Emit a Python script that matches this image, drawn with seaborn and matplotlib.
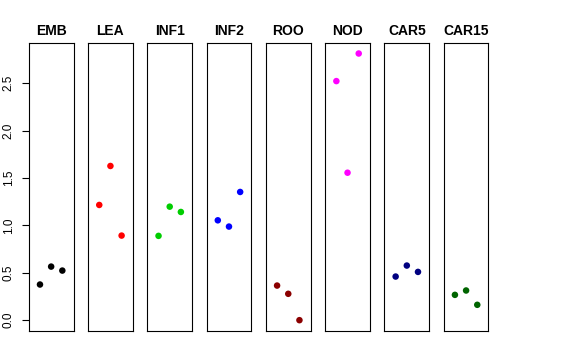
import numpy as np
import pandas as pd
import matplotlib
matplotlib.use("Agg")
import matplotlib.pyplot as plt
import seaborn as sns

# tissues, replicate index and expression values
tissues = ["EMB", "LEA", "INF1", "INF2", "ROO", "NOD", "CAR5", "CAR15"]
replicate = [1, 2, 3]
emb = [0.376, 0.565, 0.523]
lea = [1.215, 1.626, 0.892]
inf1 = [0.889, 1.197, 1.141]
inf2 = [1.053, 0.987, 1.352]
roo = [0.365, 0.278, 0.0]
nod = [2.521, 1.555, 2.812]
car5 = [0.460, 0.576, 0.509]
car15 = [0.267, 0.313, 0.162]
colors = ["#000000", "#FF0000", "#00CD00", "#0000FF",
          "#8B0000", "#FF00FF", "#000080", "#006400"]
yticks = [0.0, 0.5, 1.0, 1.5, 2.0, 2.5]

values = [emb, lea, inf1, inf2, roo, nod, car5, car15]
df = pd.DataFrame({
    "tissue": np.repeat(tissues, len(replicate)),
    "rep": replicate * len(tissues),
    "value": np.concatenate(values),
})
palette = dict(zip(tissues, colors))

sns.set_style("white")
plt.rcParams["font.family"] = ["Liberation Sans", "DejaVu Sans"]
plt.rcParams["text.color"] = "black"
plt.rcParams["axes.labelcolor"] = "black"
plt.rcParams["xtick.color"] = "black"
plt.rcParams["ytick.color"] = "black"

g = sns.FacetGrid(df, col="tissue", col_order=tissues, sharey=True,
                  height=3.6, aspect=0.2, despine=False)
g.map_dataframe(sns.scatterplot, x="rep", y="value", hue="tissue",
                palette=palette, s=22, edgecolor="none", legend=False)
g.figure.set_size_inches(5.76, 3.6)
g.figure.subplots_adjust(left=0.050, right=0.848, top=0.881, bottom=0.081,
                         wspace=0.326)

ymax = max(max(v) for v in values)
pad = 0.04 * ymax
for ax, name in zip(g.axes.flat, tissues):
    ax.set_xlim(0, 4)
    ax.set_ylim(-pad, ymax + pad)
    ax.set_xticks([])
    ax.set_xlabel("")
    ax.set_ylabel("")
    ax.set_title(name, fontweight="bold", fontsize=10, pad=6, color="black")
    for sp in ax.spines.values():
        sp.set_color("#000000")
        sp.set_linewidth(0.8)

first = g.axes.flat[0]
first.set_yticks(yticks)
first.set_yticklabels([f"{t:.1f}" for t in yticks], rotation=90, va="center",
                      fontsize=8.5, color="black")
first.tick_params(axis="y", left=True, length=5, width=0.8, pad=5)
for ax in g.axes.flat[1:]:
    ax.tick_params(axis="y", left=False, labelleft=False)

g.figure.savefig("out.png", dpi=100)
